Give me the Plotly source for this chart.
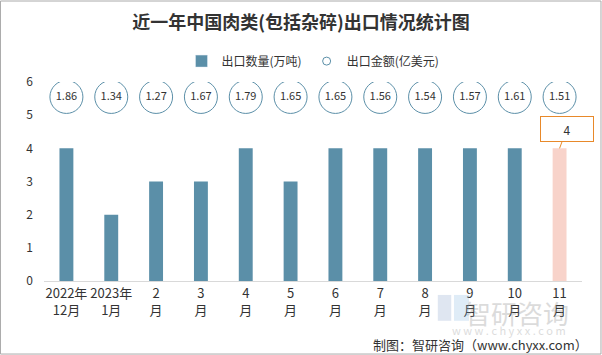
import plotly.graph_objects as go

categories = ["2022年<br>12月", "2023年<br>1月", "2<br>月", "3<br>月", "4<br>月", "5<br>月",
              "6<br>月", "7<br>月", "8<br>月", "9<br>月", "10<br>月", "11<br>月"]
quantity = [4, 2, 3, 3, 4, 3, 4, 4, 4, 4, 4, 4]
amount = [1.86, 1.34, 1.27, 1.67, 1.79, 1.65, 1.65, 1.56, 1.54, 1.57, 1.61, 1.51]
label_row = 5.55

teal = "#5b8fa8"
pink = "#f8d3ca"
bar_colors = [teal] * (len(categories) - 1) + [pink]
font = "Noto Sans CJK SC"

fig = go.Figure()
fig.add_trace(go.Bar(
    x=categories, y=quantity, name="出口数量(万吨)",
    marker=dict(color=bar_colors, line=dict(width=0)),
    width=0.31, showlegend=False,
))
fig.add_trace(go.Bar(
    x=[None], y=[None], name="出口数量(万吨)",
    marker=dict(color=teal), showlegend=True,
))
fig.add_trace(go.Scatter(
    x=categories, y=[label_row] * len(categories), mode="markers+text",
    name="出口金额(亿美元)",
    marker=dict(symbol="circle", size=33, color="white", line=dict(color=teal, width=1)),
    text=[f"{v:.2f}" for v in amount], textposition="middle center",
    textfont=dict(size=11, color="#333333", family=font),
    showlegend=False,
))
fig.add_trace(go.Scatter(
    x=[None], y=[None], mode="markers", name="出口金额(亿美元)",
    marker=dict(symbol="circle-open", size=8, color=teal, line=dict(width=1)),
))

fig.add_annotation(
    x=categories[-1], y=quantity[-1], text=str(quantity[-1]),
    showarrow=True, arrowhead=0, arrowcolor="#e8892a", arrowwidth=1,
    ax=7, ay=-19,
    bordercolor="#e8892a", borderwidth=1, borderpad=4, bgcolor="white",
    width=44, height=16,
    font=dict(size=12, color="#333333", family=font),
)

# watermark
fig.add_annotation(
    xref="paper", yref="paper", x=0.98, y=-0.055, xanchor="right", yanchor="top",
    text="智研咨询", showarrow=False, opacity=0.3,
    font=dict(size=26, color="#8c8c8c", family=font),
)
fig.add_annotation(
    xref="paper", yref="paper", x=0.865, y=-0.245, xanchor="center", yanchor="middle",
    text="w w w . c h y x x . c o m", showarrow=False, opacity=0.3,
    font=dict(size=11, color="#8c8c8c", family=font),
)
# faint logo blocks
fig.add_shape(type="rect", xref="paper", yref="paper", x0=0.732, x1=0.757, y0=-0.07, y1=-0.2,
              line=dict(width=0), fillcolor="rgba(110,140,190,0.22)")
fig.add_shape(type="rect", xref="paper", yref="paper", x0=0.762, x1=0.79, y0=-0.07, y1=-0.2,
              line=dict(width=0), fillcolor="rgba(110,170,220,0.22)")
# footer
fig.add_annotation(
    xref="paper", yref="paper", x=1.015, y=-0.26, xanchor="right", yanchor="top",
    text="制图：智研咨询（www.chyxx.com）", showarrow=False,
    font=dict(size=13, color="#333333", family=font),
)

fig.add_shape(type="rect", xref="paper", yref="paper", x0=-0.0809, x1=1.0353, y0=-0.367, y1=1.407,
              line=dict(color="#aaaaaa", width=1))

fig.update_layout(
    width=602, height=355,
    margin=dict(l=44, r=20, t=82, b=74, autoexpand=False),
    paper_bgcolor="white", plot_bgcolor="white",
    barmode="overlay",
    title=dict(text="<b>近一年中国肉类(包括杂碎)出口情况统计图</b>", x=0.5, xanchor="center",
               y=0.935, yanchor="middle",
               font=dict(size=18, color="#333333", family=font)),
    legend=dict(orientation="h", x=0.5, xanchor="center", y=1.105, yanchor="middle",
                font=dict(size=12, color="#333333", family=font),
                bgcolor="rgba(0,0,0,0)"),
    xaxis=dict(showline=True, linecolor="#d9d9d9", linewidth=1, ticks="", tickangle=0,
               automargin=False, range=[-0.5, len(categories) - 0.5],
               tickfont=dict(size=13, color="#333333", family=font)),
    yaxis=dict(range=[0, 6], dtick=1, showgrid=False, zeroline=False, showline=False,
               ticks="", automargin=False, ticklabelstandoff=10,
               tickfont=dict(size=12, color="#333333", family=font)),
)

fig.write_html("out.html", config={"displayModeBar": False},
               post_script="document.body.style.margin='0';")
